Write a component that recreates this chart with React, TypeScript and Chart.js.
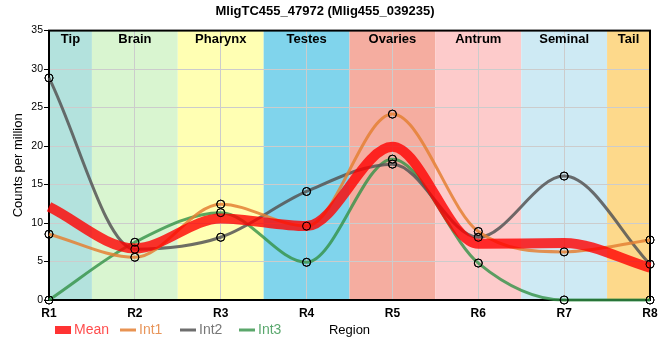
import React, { useEffect, useRef } from 'react';
import { Chart, registerables } from 'chart.js';

Chart.register(...registerables);

const chartTitle = 'MligTC455_47972 (Mlig455_039235)';
const categories = ['R1', 'R2', 'R3', 'R4', 'R5', 'R6', 'R7', 'R8'];
const regionNames = ['Tip', 'Brain', 'Pharynx', 'Testes', 'Ovaries', 'Antrum', 'Seminal', 'Tail'];
const regionColors = ['#b3e2dd', '#d9f5d0', '#ffffb3', '#80d4ec', '#f5ada0', '#fdcbcb', '#ceeaf4', '#fdd98b'];
const meanValues = [12.1, 6.7, 10.6, 9.6, 19.9, 7.3, 7.4, 4.2];
const int1Values = [8.55, 5.55, 12.45, 9.6, 24.15, 8.9, 6.25, 7.8];
const int2Values = [28.85, 6.6, 8.15, 14.1, 17.65, 8.15, 16.1, 4.65];
const int3Values = [0, 7.5, 11.35, 4.9, 18.3, 4.8, 0, 0];
const seriesNames = ['Mean', 'Int1', 'Int2', 'Int3'];
const seriesColors = ['rgba(255,0,0,0.8)', 'rgba(228,128,52,0.85)', 'rgba(85,85,85,0.85)', 'rgba(50,145,70,0.8)'];
const legendTextColors = ['#ff4d4d', '#e8955a', '#777777', '#5aa86e'];
const yMin = 0;
const yMax = 35;
const yStep = 5;
const xTitle = 'Region';
const yTitle = 'Counts per million';

const FONT = "'Liberation Sans', Arial, sans-serif";

function bandEdges(chart: any, i: number) {
  const { chartArea: a, scales } = chart;
  const x = scales.x;
  const n = regionNames.length;
  const x0 = i === 0 ? a.left : (x.getPixelForValue(i - 1) + x.getPixelForValue(i)) / 2;
  const x1 = i === n - 1 ? a.right : (x.getPixelForValue(i) + x.getPixelForValue(i + 1)) / 2;
  return [x0, x1];
}

const bandsPlugin = {
  id: 'bands',
  beforeDraw(chart: any) {
    const { ctx, chartArea: a } = chart;
    ctx.save();
    for (let i = 0; i < regionNames.length; i++) {
      const [x0, x1] = bandEdges(chart, i);
      ctx.fillStyle = regionColors[i];
      ctx.fillRect(x0, a.top, x1 - x0, a.bottom - a.top);
    }
    ctx.restore();
  },
  beforeDatasetsDraw(chart: any) {
    const { ctx, chartArea: a } = chart;
    ctx.save();
    ctx.font = `bold 13px ${FONT}`;
    ctx.fillStyle = '#000';
    ctx.textAlign = 'center';
    ctx.textBaseline = 'middle';
    for (let i = 0; i < regionNames.length; i++) {
      const [x0, x1] = bandEdges(chart, i);
      ctx.fillText(regionNames[i], (x0 + x1) / 2, a.top + 9);
    }
    ctx.strokeStyle = '#000';
    ctx.lineWidth = 2;
    ctx.strokeRect(a.left, a.top, a.right - a.left, a.bottom - a.top);
    ctx.restore();
  },
  afterDatasetsDraw(chart: any) {
    const { ctx } = chart;
    for (let i = 1; i < chart.data.datasets.length; i++) {
      const meta = chart.getDatasetMeta(i);
      meta.data.forEach((p: any) => p.draw(ctx));
    }
  },
  afterDraw(chart: any) {
    const { ctx } = chart;
    const starts = [55, 120, 180, 239];
    const cy = 330;
    ctx.save();
    ctx.font = `14px ${FONT}`;
    ctx.textBaseline = 'middle';
    ctx.textAlign = 'left';
    chart.data.datasets.forEach((ds: any, i: number) => {
      const sx = starts[i];
      ctx.fillStyle = ds.borderColor;
      ctx.strokeStyle = ds.borderColor;
      if (i === 0) {
        ctx.fillRect(sx, cy - 4, 16, 8);
      } else {
        ctx.lineWidth = 3;
        ctx.beginPath();
        ctx.moveTo(sx, cy);
        ctx.lineTo(sx + 16, cy);
        ctx.stroke();
      }
      ctx.fillStyle = legendTextColors[i];
      ctx.fillText(ds.label, sx + 19, cy);
    });
    ctx.restore();
  },
};

export default function App() {
  const ref = useRef<HTMLCanvasElement | null>(null);
  useEffect(() => {
    if (!ref.current) return;
    const values = [meanValues, int1Values, int2Values, int3Values];
    const chart = new Chart(ref.current, {
      type: 'line',
      data: {
        labels: categories,
        datasets: values.map((v, i) => ({
          label: seriesNames[i],
          data: v,
          borderColor: seriesColors[i],
          backgroundColor: seriesColors[i],
          borderWidth: i === 0 ? 10 : 3,
          cubicInterpolationMode: 'monotone',
          pointRadius: i === 0 ? 0 : 4,
          pointBorderColor: '#000',
          pointBorderWidth: 1,
          pointBackgroundColor: 'rgba(0,0,0,0)',
          clip: false,
          fill: false,
        })),
      },
      options: {
        animation: false,
        responsive: false,
        maintainAspectRatio: false,
        events: [],
        layout: { padding: { top: 0, right: 10, bottom: 20, left: 0 } },
        plugins: {
          legend: { display: false },
          tooltip: { enabled: false },
          title: {
            display: true,
            text: chartTitle,
            color: '#000',
            font: { family: FONT, size: 13, weight: 'bold' },
            padding: { top: 4, bottom: 11 },
          },
        },
        scales: {
          x: {
            type: 'category',
            offset: false,
            afterFit: (s: any) => { s.height = 40; s.paddingRight = 0; s.paddingLeft = 0; },
            border: { display: false },
            grid: { color: '#cccccc', lineWidth: 1, drawTicks: false },
            ticks: { color: '#000', padding: 6, font: { family: FONT, size: 12, weight: 'bold' }, maxRotation: 0 },
            title: { display: true, text: xTitle, color: '#000', font: { family: FONT, size: 13 }, padding: { top: 0, bottom: 2 } },
          },
          y: {
            min: yMin,
            max: yMax,
            afterFit: (s: any) => { s.width = 49; s.paddingTop = 0; s.paddingBottom = 0; },
            border: { display: false },
            grid: { color: '#cccccc', lineWidth: 1, tickColor: '#000', tickLength: 5 },
            ticks: { stepSize: yStep, color: '#000', padding: 1, font: { family: FONT, size: 10.5 } },
            title: { display: true, text: yTitle, color: '#000', font: { family: FONT, size: 13 }, padding: { top: 11, bottom: 0 } },
          },
        },
      },
      plugins: [bandsPlugin],
    } as any);
    return () => chart.destroy();
  }, []);
  return (
    <div style={{ position: 'fixed', left: 0, top: 0, width: 660, height: 360, background: '#fff' }}>
      <canvas ref={ref} width={660} height={360} style={{ width: 660, height: 360, display: 'block' }} />
    </div>
  );
}
